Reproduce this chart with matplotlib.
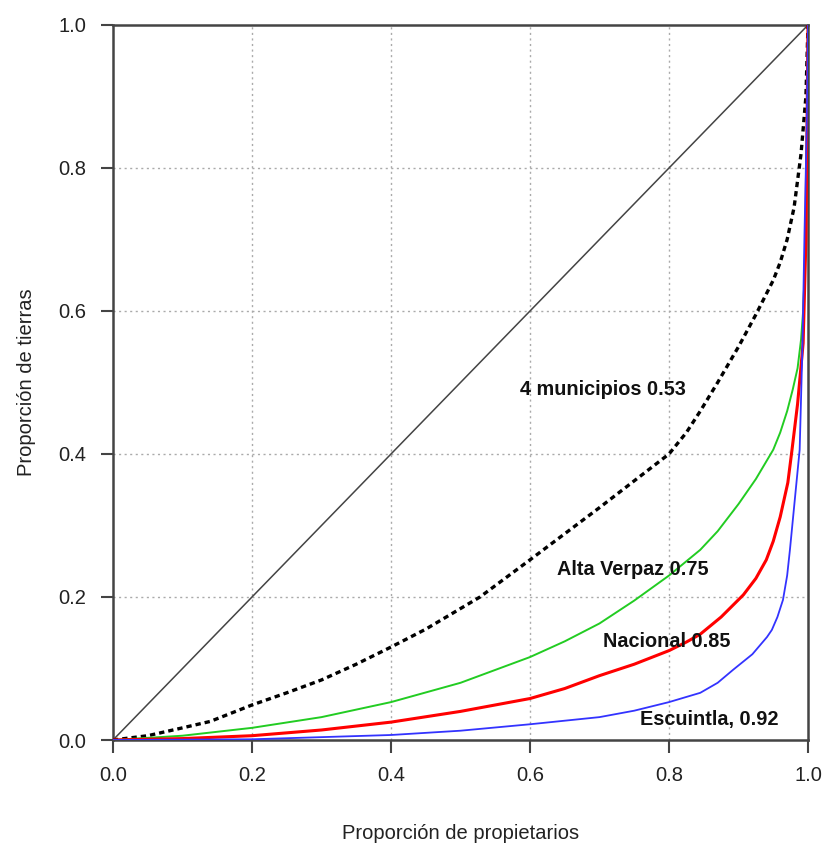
import matplotlib
matplotlib.use("Agg")
import matplotlib.pyplot as plt

plt.rcParams['font.family'] = ['Liberation Sans', 'DejaVu Sans']

# curvas de Lorenz: proporcion acumulada de propietarios vs. de tierras
x_muni = [0, 0.05, 0.1, 0.14, 0.2, 0.25, 0.3, 0.35, 0.4, 0.45, 0.528, 0.6, 0.7, 0.8, 0.825, 0.845,
          0.87, 0.9, 0.925, 0.95, 0.96, 0.97, 0.98, 0.99, 0.997, 1.0]
y_muni = [0, 0.006, 0.017, 0.026, 0.049, 0.066, 0.084, 0.106, 0.13, 0.155, 0.2, 0.252, 0.325, 0.40,
          0.43, 0.46, 0.50, 0.55, 0.595, 0.643, 0.668, 0.70, 0.745, 0.82, 0.90, 1.0]

x_alta = [0, 0.1, 0.2, 0.3, 0.4, 0.5, 0.6, 0.65, 0.7, 0.75, 0.8, 0.845, 0.87, 0.9, 0.925, 0.95,
          0.96, 0.97, 0.978, 0.985, 0.99, 0.993, 0.997, 1.0]
y_alta = [0, 0.006, 0.017, 0.032, 0.053, 0.08, 0.116, 0.138, 0.163, 0.195, 0.23, 0.266, 0.292, 0.33,
          0.365, 0.406, 0.43, 0.46, 0.49, 0.52, 0.56, 0.6, 0.7, 1.0]

x_nac = [0, 0.1, 0.2, 0.3, 0.4, 0.5, 0.6, 0.65, 0.7, 0.75, 0.8, 0.825, 0.845, 0.875, 0.907, 0.925,
         0.94, 0.95, 0.96, 0.971, 0.977, 0.985, 0.993, 0.997, 1.0]
y_nac = [0, 0.002, 0.006, 0.014, 0.025, 0.04, 0.058, 0.072, 0.09, 0.106, 0.125, 0.137, 0.148, 0.172,
         0.203, 0.226, 0.252, 0.278, 0.312, 0.36, 0.406, 0.47, 0.555, 0.70, 1.0]

x_esc = [0, 0.2, 0.3, 0.4, 0.5, 0.6, 0.65, 0.7, 0.75, 0.8, 0.845, 0.87, 0.892, 0.92, 0.941, 0.948,
         0.956, 0.964, 0.97, 0.974, 0.981, 0.988, 0.992, 0.995, 0.998, 1.0]
y_esc = [0, 0.001, 0.004, 0.007, 0.013, 0.022, 0.027, 0.032, 0.041, 0.053, 0.066, 0.08, 0.098, 0.12,
         0.144, 0.154, 0.172, 0.196, 0.23, 0.266, 0.336, 0.406, 0.55, 0.71, 0.85, 1.0]

etiquetas = ["4 municipios 0.53", "Alta Verpaz 0.75", "Nacional 0.85", "Escuintla, 0.92"]
pos_etiquetas = [(0.705, 0.49), (0.748, 0.238), (0.797, 0.138), (0.858, 0.029)]

ticks = [0.0, 0.2, 0.4, 0.6, 0.8, 1.0]

fig = plt.figure(figsize=(8.25, 8.43), dpi=100)
ax = fig.add_axes([113 / 825, 1 - 740 / 843, 695 / 825, 715 / 843])

# rejilla punteada solo en las lineas interiores
for t in ticks[1:-1]:
    ax.axvline(t, color='#aaaaaa', lw=1, ls=(0, (1.5, 2.5)), zorder=1)
    ax.axhline(t, color='#aaaaaa', lw=1, ls=(0, (1.5, 2.5)), zorder=1)

ax.plot([0, 1], [0, 1], color='#444444', lw=1.1, zorder=2)
ax.plot(x_muni, y_muni, color='black', lw=2.4, ls=(0, (1.6, 1.2)), zorder=3)
ax.plot(x_alta, y_alta, color='#22cc22', lw=1.4, zorder=3)
ax.plot(x_nac, y_nac, color='#ff0000', lw=2.2, zorder=3)
ax.plot(x_esc, y_esc, color='#3333ff', lw=1.3, zorder=3)

for texto, (tx, ty) in zip(etiquetas, pos_etiquetas):
    ax.text(tx, ty, texto, ha='center', va='center', fontsize=14.3,
            fontweight='bold', color='#111111', zorder=4)

ax.set_xlim(0, 1)
ax.set_ylim(0, 1)
ax.set_xticks(ticks)
ax.set_yticks(ticks)
ax.set_xticklabels([f"{t:.1f}" for t in ticks])
ax.set_yticklabels([f"{t:.1f}" for t in ticks])
ax.tick_params(direction='out', length=9, width=1.5, color='#444444',
               labelsize=14.5, labelcolor='#222222')
ax.tick_params(axis='x', pad=10)
ax.tick_params(axis='y', pad=10)
for s in ax.spines.values():
    s.set_color('#444444')
    s.set_linewidth(1.8)

ax.set_xlabel("Proporción de propietarios", fontsize=14.5, color='#222222', labelpad=28)
ax.set_ylabel("Proporción de tierras", fontsize=14.5, color='#222222', labelpad=16)

fig.savefig("out.png", dpi=100)
